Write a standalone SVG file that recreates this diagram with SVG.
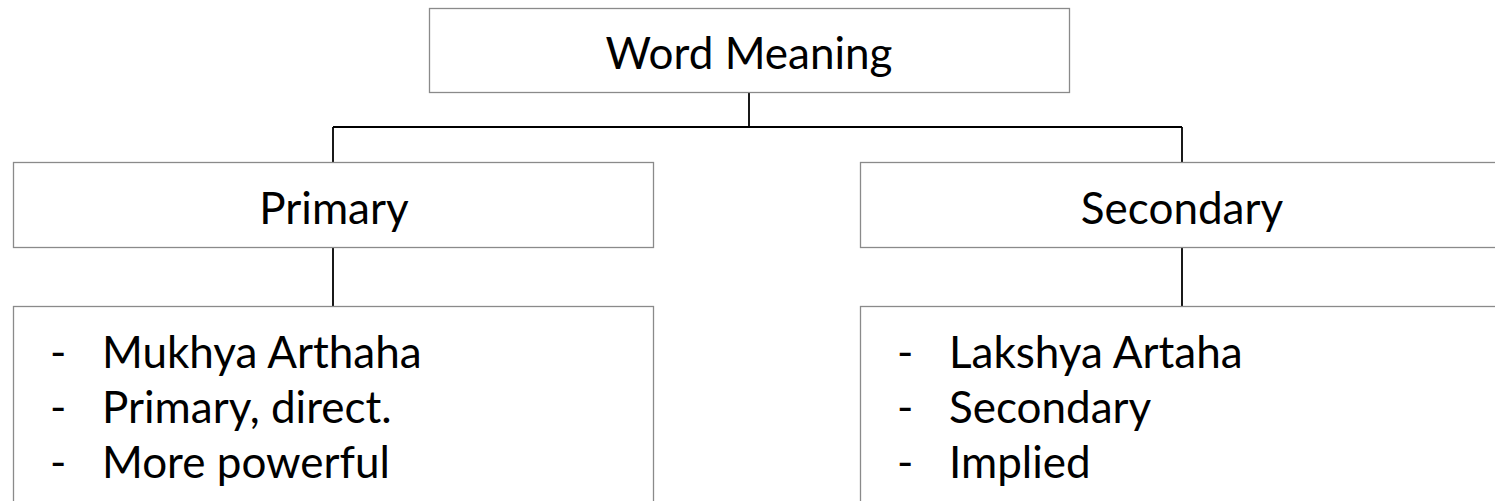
<svg xmlns="http://www.w3.org/2000/svg" width="1495" height="501" viewBox="0 0 1495 501">
  <style>
    .box { fill: #ffffff; stroke: #8a8a8a; stroke-width: 1.3; }
    .link { fill: none; stroke: #000000; stroke-width: 1.8; }
    .title { font-family: Lato, "Open Sans", sans-serif; font-size: 44px; fill: #000000; text-anchor: middle; }
    .item { font-family: Lato, "Open Sans", sans-serif; font-size: 44px; fill: #000000; }
  </style>

  <!-- connectors -->
  <g id="connectors">
    <path class="link" d="M749 92 V127"/>
    <path class="link" d="M333 127 H1182"/>
    <path class="link" d="M333 127 V162"/>
    <path class="link" d="M1182 127 V162"/>
    <path class="link" d="M333 247.5 V306.5"/>
    <path class="link" d="M1182 247.5 V306.5"/>
  </g>

  <!-- root -->
  <g id="word-meaning">
    <rect class="box" x="429.5" y="8.5" width="640" height="84"/>
    <text class="title" x="749" y="69">Word Meaning</text>
  </g>

  <!-- branch headers -->
  <g id="primary">
    <rect class="box" x="13.5" y="162.5" width="640" height="85"/>
    <text class="title" x="334" y="224">Primary</text>
  </g>
  <g id="secondary">
    <rect class="box" x="860.5" y="162.5" width="644" height="85"/>
    <text class="title" x="1182" y="224">Secondary</text>
  </g>

  <!-- detail lists -->
  <g id="primary-details">
    <rect class="box" x="13.5" y="306.5" width="640" height="210"/>
    <text class="item" y="368"><tspan x="50">-</tspan><tspan x="102">Mukhya Arthaha</tspan></text>
    <text class="item" y="423"><tspan x="50">-</tspan><tspan x="102">Primary, direct.</tspan></text>
    <text class="item" y="478"><tspan x="50">-</tspan><tspan x="102">More powerful</tspan></text>
  </g>
  <g id="secondary-details">
    <rect class="box" x="860.5" y="306.5" width="644" height="210"/>
    <text class="item" y="368"><tspan x="897">-</tspan><tspan x="949">Lakshya Artaha</tspan></text>
    <text class="item" y="423"><tspan x="897">-</tspan><tspan x="949">Secondary</tspan></text>
    <text class="item" y="478"><tspan x="897">-</tspan><tspan x="949">Implied</tspan></text>
  </g>
</svg>
